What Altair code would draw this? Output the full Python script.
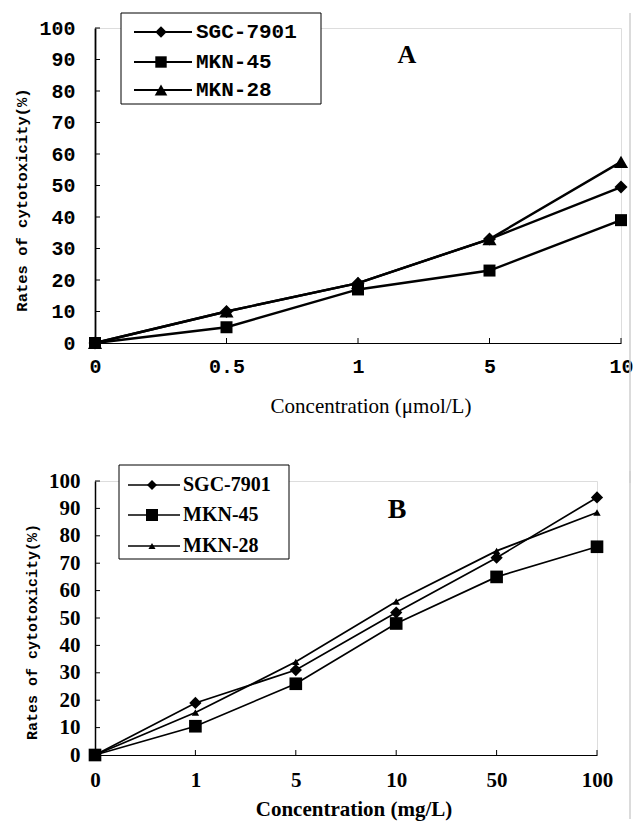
import altair as alt
import pandas as pd

# ---------------- data ----------------
series = ["SGC-7901", "MKN-45", "MKN-28"]
shapes = ["diamond", "square", "triangle-up"]
draw_order = ["SGC-7901", "MKN-28", "MKN-45"]
y_ticks = [0, 10, 20, 30, 40, 50, 60, 70, 80, 90, 100]

conc_a = ["0", "0.5", "1", "5", "10"]
a_sgc = [0, 10, 19, 33, 49.5]
a_mkn45 = [0, 5, 17, 23, 39]
a_mkn28 = [0, 10, 19, 33, 57.5]

conc_b = ["0", "1", "5", "10", "50", "100"]
b_sgc = [0, 19, 31, 52, 72, 94]
b_mkn45 = [0, 10.5, 26, 48, 65, 76]
b_mkn28 = [0, 15.5, 34, 56, 74.5, 88.5]

title_a = "Concentration (\u03bcmol/L)"
title_b = "Concentration (mg/L)"
y_title = "Rates of cytotoxicity(%)"


def long_df(conc, vals):
    rows = []
    for name in draw_order:
        for i, (c, v) in enumerate(zip(conc, vals[name])):
            rows.append({"conc": c, "series": name, "value": v, "idx": i})
    return pd.DataFrame(rows)


def panel(conc, vals, W, H, st, letter, xtitle):
    df = long_df(conc, vals)
    xs = alt.X(
        "conc:N", sort=conc, title=None,
        scale=alt.Scale(type="point", domain=conc, padding=0),
        axis=alt.Axis(labelAngle=0, labelFont=st["tick_font"], labelFontSize=st["tick_size"],
                      labelFontWeight="bold", labelColor="black", labelPadding=st["xlab_pad"],
                      ticks=False, tickSize=0, domainColor="black", domainWidth=1, grid=False),
    )
    ys = alt.Y(
        "value:Q", title=None,
        scale=alt.Scale(domain=[0, 100], nice=False, zero=True),
        axis=alt.Axis(values=y_ticks, labelFont=st["tick_font"], labelFontSize=st["tick_size"],
                      labelFontWeight="bold", labelColor="black", labelPadding=st["ylab_pad"],
                      ticks=False, tickSize=0, domainColor="black", domainWidth=st["ydom_w"], grid=False),
    )
    one = pd.DataFrame({"k": [0]})
    layers = []

    # scan border line on the right
    bx, by0, by1 = st["border"]
    layers.append(alt.Chart(one).mark_rule(color="#cfcfcf", strokeWidth=1.5).encode(
        x=alt.value(bx), y=alt.value(by0), y2=alt.value(H + by1)))

    # inward ticks
    xt = pd.DataFrame({"conc": conc[1:]})
    layers.append(alt.Chart(xt).mark_rule(color="black", strokeWidth=1).encode(
        x=xs, y=alt.value(H), y2=alt.value(H - 5)))
    yt = pd.DataFrame({"value": y_ticks[1:]})
    layers.append(alt.Chart(yt).mark_rule(color="black", strokeWidth=1).encode(
        y=ys, x=alt.value(0), x2=alt.value(5)))

    # data
    layers.append(alt.Chart(df).mark_line(color="black", strokeWidth=st["lw"]).encode(
        x=xs, y=ys, detail="series:N", order="idx:Q"))
    for name in draw_order:
        k = series.index(name)
        layers.append(alt.Chart(df).transform_filter(alt.datum.series == name).mark_point(
            shape=shapes[k], size=st["sizes"][k], filled=True, color="black", opacity=1, strokeWidth=0
        ).encode(x=xs, y=ys))

    # legend
    lg = st["legend"]
    layers.append(alt.Chart(one).mark_rect(fill="white", stroke="black", strokeWidth=1).encode(
        x=alt.value(lg["box"][0]), x2=alt.value(lg["box"][1]),
        y=alt.value(lg["box"][2]), y2=alt.value(lg["box"][3])))
    for k, name in enumerate(series):
        ry = lg["rows"][k]
        layers.append(alt.Chart(one).mark_rule(color="black", strokeWidth=lg["lw"]).encode(
            x=alt.value(lg["line"][0]), x2=alt.value(lg["line"][1]), y=alt.value(ry)))
        layers.append(alt.Chart(one).mark_point(
            shape=shapes[k], size=lg["sizes"][k], filled=True, color="black", opacity=1, strokeWidth=0
        ).encode(x=alt.value(lg["marker"]), y=alt.value(ry)))
        layers.append(alt.Chart(one).mark_text(
            text=name, align="left", baseline="middle", font=lg["font"], fontSize=lg["size"],
            fontWeight="bold", color="black").encode(x=alt.value(lg["text"]), y=alt.value(ry)))

    # panel letter
    layers.append(alt.Chart(one).mark_text(
        text=letter, align="center", baseline="middle", font="Liberation Serif",
        fontSize=st["letter_size"], fontWeight="bold", color="black").encode(
        x=alt.value(st["letter_pos"][0]), y=alt.value(st["letter_pos"][1])))

    # axis titles
    layers.append(alt.Chart(one).mark_text(
        text=xtitle, align="center", baseline="middle", font="Liberation Serif",
        fontSize=st["xt_size"], fontWeight=st["xt_weight"], color="black").encode(
        x=alt.value(st["xt_pos"][0]), y=alt.value(H + st["xt_pos"][1])))
    layers.append(alt.Chart(one).mark_text(
        text=y_title, align="center", baseline="middle", angle=270, font="Liberation Mono",
        fontSize=st["yt_size"], fontWeight="bold", color="black").encode(
        x=alt.value(st["yt_pos"][0]), y=alt.value(st["yt_pos"][1])))

    return alt.layer(*layers).properties(width=W, height=H)


style_a = dict(
    tick_font="Liberation Mono", tick_size=20, xlab_pad=13, ylab_pad=20, ydom_w=1.8,
    lw=2.4, sizes=[170, 144, 200],
    legend=dict(box=[26, 226, -15, 76], rows=[4, 34, 62], line=[39, 97], marker=66, text=101,
                font="Liberation Mono", size=21, lw=1.8, sizes=[130, 130, 160]),
    letter_size=26, letter_pos=[312, 27],
    xt_size=21, xt_weight="normal", xt_pos=[276, 64],
    yt_size=15.5, yt_pos=[-73, 172],
    border=[535, -15, 140],
)
style_b = dict(
    tick_font="Liberation Serif", tick_size=21, xlab_pad=14, ylab_pad=15, ydom_w=1.5,
    lw=1.7, sizes=[150, 160, 55],
    legend=dict(box=[24, 194, -16, 78], rows=[4, 34, 65], line=[33, 85], marker=57, text=88,
                font="Liberation Serif", size=20, lw=1.5, sizes=[100, 144, 50]),
    letter_size=28, letter_pos=[302, 29],
    xt_size=21, xt_weight="bold", xt_pos=[259, 55],
    yt_size=15, yt_pos=[-63, 151],
    border=[535, -10, 64],
)

vals_a = {"SGC-7901": a_sgc, "MKN-45": a_mkn45, "MKN-28": a_mkn28}
vals_b = {"SGC-7901": b_sgc, "MKN-45": b_mkn45, "MKN-28": b_mkn28}

chart_a = panel(conc_a, vals_a, 526, 315, style_a, "A", title_a)
chart_b = panel(conc_b, vals_b, 502, 274, style_b, "B", title_b)

chart = alt.vconcat(chart_a, chart_b, spacing=138, bounds="flush").properties(
    padding={"left": 6, "top": 3, "right": 0, "bottom": 0}
).configure_view(stroke=None).configure(background="white")

chart.save("out.html", embed_options={"renderer": "svg", "actions": False})
